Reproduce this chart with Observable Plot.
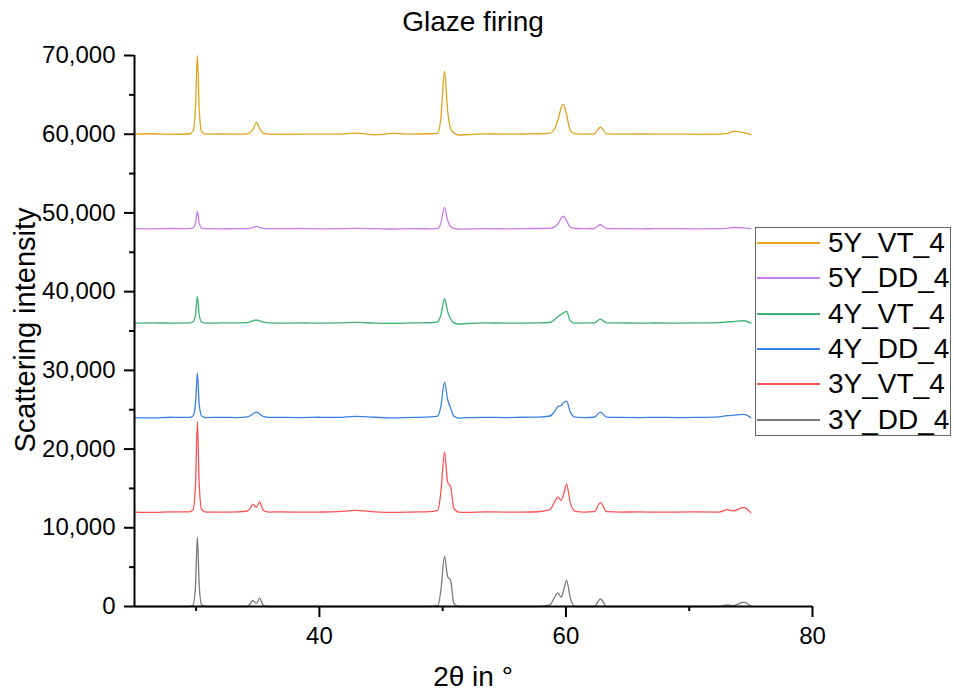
<!DOCTYPE html>
<html>
<head>
<meta charset="utf-8">
<script src="https://cdn.jsdelivr.net/npm/d3@7"></script>
<script src="https://cdn.jsdelivr.net/npm/@observablehq/plot@0.6"></script>
<style>
  html, body { margin: 0; padding: 0; background: #fff; }
  #wrap { position: relative; width: 954px; height: 698px; font-family: "Liberation Sans", Arial, sans-serif; color: #000; }
  #wrap svg { position: absolute; left: 0; top: 0; }
  .lbl { position: absolute; line-height: 1; white-space: nowrap; transform: translate(-50%, -50%); }
  #legend { position: absolute; left: 755px; top: 227px; width: 196px; height: 209px; border: 1.5px solid #666; background: #fff; box-sizing: border-box; }
  .lrow { position: absolute; left: 0; height: 0; }
  .lline { position: absolute; left: 1px; top: -1px; width: 63px; height: 2px; }
  .ltext { position: absolute; left: 72px; font-size: 28px; line-height: 1; transform: translateY(-50%); white-space: nowrap; }
</style>
</head>
<body>
<div id="wrap"></div>
<script>
// 2θ positions (degrees) shared by all patterns
const theta = [25, 26.5, 28, 29.4, 29.75, 29.95, 30.1, 30.25, 30.45, 30.8,
  32, 33.3, 34.1, 34.35, 34.6, 34.9, 35.15, 35.45, 35.9, 37,
  38.5, 40, 41.5, 42.9, 44.5, 46, 47.5, 49, 49.6, 49.85,
  50.15, 50.4, 50.65, 50.9, 51.3, 52, 53.5, 55, 56.5, 57.8,
  58.7, 59.05, 59.35, 59.6, 59.8, 60.05, 60.35, 60.75, 61.5, 62.3,
  62.8, 63.3, 64.5, 66, 67.5, 69, 70.5, 72.4, 73.1, 73.6,
  74.4, 75];

const seriesNames = ["5Y_VT_4", "5Y_DD_4", "4Y_VT_4", "4Y_DD_4", "3Y_VT_4", "3Y_DD_4"];
const seriesColors = ["#E2A31A", "#C77CF0", "#3DB274", "#3A80E4", "#FF5252", "#7A7A7A"];
const offsets = [60000, 48000, 36000, 24000, 12000, 0];

// intensities above each pattern's own baseline
const y5VT = [0, 60, -20, 30, 400, 3500, 10000, 3200, 300, 0,
  30, 0, 50, 150, 600, 1500, 700, 100, 0, -20,
  0, 20, 0, 150, -80, 100, 0, 60, 150, 2000,
  8000, 3000, 700, 150, -100, -50, 50, 0, 30, 60,
  150, 600, 1800, 3300, 3800, 2500, 500, 50, 0, 50,
  900, 50, 0, 30, 0, 20, -20, 0, 100, 350,
  200, -50];
const y5DD = [0, -20, 20, 0, 100, 700, 2200, 700, 80, 0,
  -20, 0, 0, 40, 120, 300, 150, 30, 0, 0,
  20, -20, 0, 30, 0, -40, 0, -20, 50, 700,
  2700, 1100, 250, 50, -60, -40, 0, -20, 0, 20,
  40, 200, 600, 1300, 1600, 1000, 200, 20, 0, 20,
  500, 20, 0, -20, 0, 0, -20, 0, 50, 150,
  100, -30];
const y4VT = [0, 30, 0, 20, 150, 1100, 3400, 1000, 120, 0,
  20, 30, 60, 150, 300, 400, 300, 120, 30, 0,
  20, 0, 20, 100, 0, -30, 20, 50, 150, 1000,
  3100, 1500, 500, 60, -120, -50, 30, 0, 0, 20,
  80, 400, 850, 1100, 1300, 1500, 300, 0, 20, 30,
  500, 30, 20, 0, 20, 0, 20, 60, 150, 200,
  300, 0];
const y4DD = [0, -30, 40, 20, 200, 1800, 5600, 1700, 200, 0,
  30, 0, 80, 200, 450, 700, 450, 150, 30, 20,
  0, 40, 20, 150, 40, -40, 20, 80, 200, 1400,
  4500, 2300, 1200, 200, -60, 0, 30, 0, 40, 60,
  200, 700, 1400, 1500, 1900, 2100, 700, 50, 0, 40,
  700, 60, 20, 0, 30, 0, 20, 100, 250, 300,
  400, 0];
const y3VT = [0, -40, 20, 30, 300, 3500, 11500, 3500, 300, 0,
  -20, 20, 100, 400, 1000, 600, 1300, 200, 0, 20,
  -20, 0, 50, 200, 20, -50, 0, 60, 200, 2500,
  7600, 3800, 3200, 500, 0, -40, 20, 0, -20, 40,
  300, 1200, 1900, 1500, 2200, 3550, 1200, 80, 0, 60,
  1200, 60, 0, 20, -20, 0, 20, 0, 300, 150,
  600, -100];
const y3DD = [0, 0, 0, 0, 200, 2700, 8800, 2700, 200, 0,
  0, 0, 0, 250, 760, 400, 1060, 150, 0, 0,
  0, 0, 0, 0, 0, 0, 0, 0, 100, 2000,
  6400, 3800, 3300, 400, 0, 0, 0, 0, 0, 0,
  200, 1100, 1740, 1200, 2000, 3330, 1100, 0, 0, 0,
  980, 0, 0, 0, 0, 0, 0, 0, 200, 100,
  550, 0];
const seriesValues = [y5VT, y5DD, y4VT, y4DD, y3VT, y3DD];

const yTicksMajor = d3.range(0, 70001, 10000);
const yTicksMinor = d3.range(5000, 70000, 10000);
const xTicksMajor = [40, 60, 80];
const xTicksMinor = [30, 50, 70];

const lineMarks = seriesNames.map((name, i) =>
  Plot.line(theta.map((t, j) => ({x: t, y: seriesValues[i][j] + offsets[i]})), {
    x: "x", y: "y", stroke: seriesColors[i], strokeWidth: 1.3, curve: "monotone-x"
  })
).reverse();

const chart = Plot.plot({
  width: 954,
  height: 698,
  marginLeft: 134,
  marginRight: 142,
  marginTop: 55,
  marginBottom: 92,
  x: {domain: [25, 80]},
  y: {domain: [0, 70000]},
  style: {fontFamily: "'Liberation Sans', Arial, sans-serif", background: "transparent", color: "#000"},
  marks: [
    ...lineMarks,
    Plot.ruleY([0], {stroke: "#000", strokeWidth: 2}),
    Plot.ruleX([25], {stroke: "#000", strokeWidth: 2}),
    Plot.axisX(xTicksMajor, {tickSize: 11, tickPadding: 9, strokeWidth: 2, fontSize: 24, tickFormat: d3.format("d"), label: null}),
    Plot.axisX(xTicksMinor, {tickSize: 5, strokeWidth: 2, tickFormat: () => "", label: null}),
    Plot.axisY(yTicksMajor, {tickSize: 10, tickPadding: 9, strokeWidth: 2, fontSize: 24, tickFormat: d3.format(","), label: null}),
    Plot.axisY(yTicksMinor, {tickSize: 5, strokeWidth: 2, tickFormat: () => "", label: null})
  ]
});

const wrap = document.getElementById("wrap");
wrap.appendChild(chart);

function addLabel(text, x, y, size, rotate) {
  const d = document.createElement("div");
  d.className = "lbl";
  d.textContent = text;
  d.style.left = x + "px";
  d.style.top = y + "px";
  d.style.fontSize = size + "px";
  if (rotate) d.style.transform = "translate(-50%, -50%) rotate(-90deg)";
  wrap.appendChild(d);
}
addLabel("Glaze firing", 473, 22, 28);
addLabel("2θ in °", 473, 677, 28);
addLabel("Scattering intensity", 25, 330, 29, true);

const legend = document.createElement("div");
legend.id = "legend";
seriesNames.forEach((name, i) => {
  const row = document.createElement("div");
  row.className = "lrow";
  row.style.top = Math.round(15 + i * 35.3) + "px";
  const ln = document.createElement("div");
  ln.className = "lline";
  ln.style.background = seriesColors[i];
  const tx = document.createElement("div");
  tx.className = "ltext";
  tx.textContent = name;
  row.appendChild(ln);
  row.appendChild(tx);
  legend.appendChild(row);
});
wrap.appendChild(legend);
</script>
</body>
</html>
